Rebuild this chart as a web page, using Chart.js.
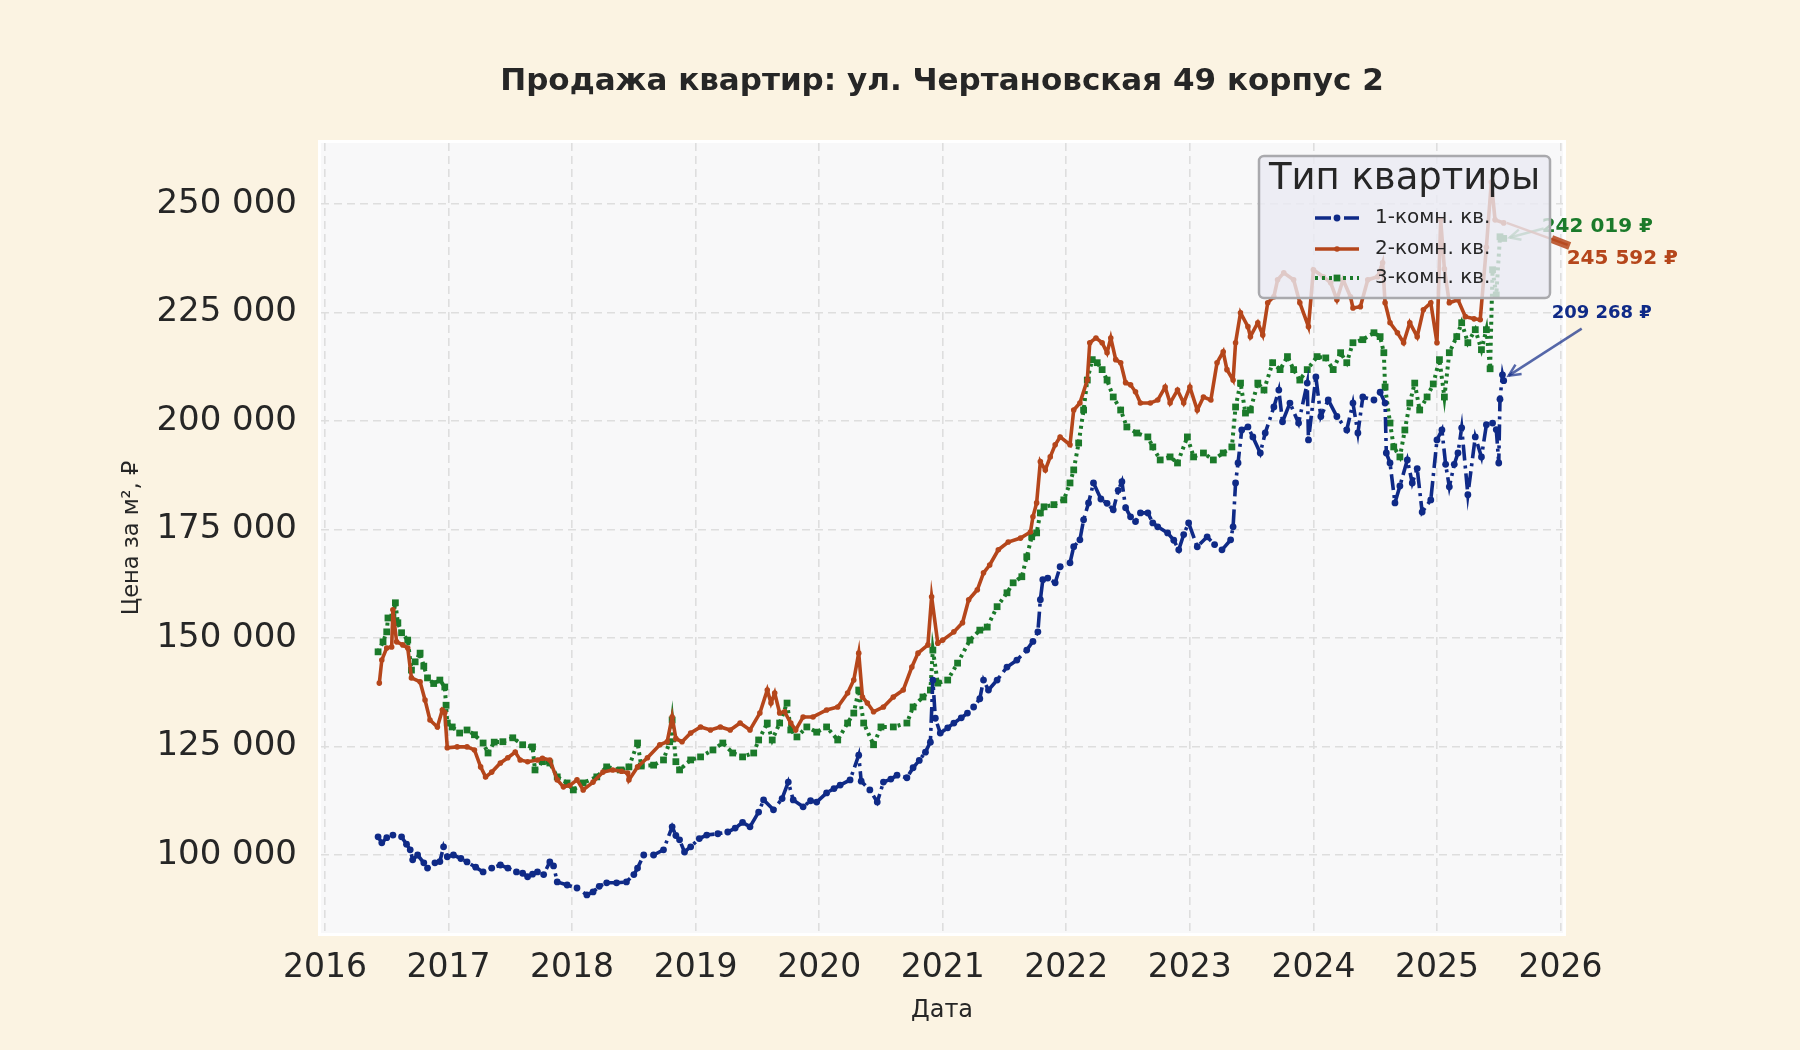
<!DOCTYPE html>
<html>
<head>
<meta charset="utf-8">
<script src="https://cdn.jsdelivr.net/npm/chart.js"></script>
<style>
  html, body { margin: 0; padding: 0; background: #fbf3e2; }
  #wrap { width: 1800px; height: 1050px; position: relative; }
</style>
</head>
<body>
<div id="wrap"><canvas id="chart"></canvas></div>
<script>
// --- data (x = decimal year, y = price per m2, RUB) ---
const oneRoomYears = [
  2016.43, 2016.46, 2016.50, 2016.55, 2016.62, 2016.66, 2016.69, 2016.71, 2016.75, 2016.80,
  2016.83, 2016.89, 2016.93, 2016.96, 2016.99, 2017.04, 2017.10, 2017.15, 2017.22, 2017.28,
  2017.35, 2017.42, 2017.48, 2017.55, 2017.60, 2017.64, 2017.68, 2017.72, 2017.77, 2017.82,
  2017.85, 2017.88, 2017.96, 2018.04, 2018.12, 2018.17, 2018.22, 2018.28, 2018.36, 2018.44,
  2018.50, 2018.53, 2018.58, 2018.66, 2018.74, 2018.81, 2018.84, 2018.87, 2018.91, 2018.96,
  2019.03, 2019.09, 2019.18, 2019.26, 2019.32, 2019.38, 2019.44, 2019.51, 2019.55, 2019.63,
  2019.70, 2019.75, 2019.79, 2019.87, 2019.93, 2019.98, 2020.06, 2020.12, 2020.17, 2020.25,
  2020.32, 2020.34, 2020.41, 2020.47, 2020.52, 2020.58, 2020.63, 2020.71, 2020.76, 2020.81,
  2020.86, 2020.90, 2020.92, 2020.94, 2020.98, 2021.04, 2021.09, 2021.15, 2021.20, 2021.25,
  2021.30, 2021.33, 2021.37, 2021.44, 2021.52, 2021.60, 2021.68, 2021.73, 2021.77, 2021.79,
  2021.81, 2021.85, 2021.91, 2021.95, 2022.03, 2022.06, 2022.11, 2022.14, 2022.18, 2022.22,
  2022.28, 2022.33, 2022.38, 2022.42, 2022.45, 2022.48, 2022.52, 2022.56, 2022.60, 2022.66,
  2022.70, 2022.74, 2022.82, 2022.87, 2022.91, 2022.95, 2022.99, 2023.06, 2023.14, 2023.20,
  2023.26, 2023.33, 2023.35, 2023.37, 2023.39, 2023.42, 2023.47, 2023.51, 2023.57, 2023.61,
  2023.68, 2023.72, 2023.75, 2023.81, 2023.88, 2023.95, 2023.96, 2024.02, 2024.06, 2024.12,
  2024.19, 2024.27, 2024.32, 2024.36, 2024.40, 2024.49, 2024.54, 2024.58, 2024.59, 2024.62,
  2024.66, 2024.70, 2024.76, 2024.80, 2024.84, 2024.88, 2024.95, 2025.00, 2025.04, 2025.07,
  2025.10, 2025.14, 2025.17, 2025.20, 2025.25, 2025.31, 2025.36, 2025.40, 2025.45, 2025.48,
  2025.50, 2025.51, 2025.53, 2025.54
];
const oneRoomPrices = [
  104200, 102800, 104000, 104600, 104200, 102500, 101200, 98900, 100000, 98200,
  97000, 98200, 98500, 101900, 99600, 100000, 99200, 98400, 97200, 96100,
  97000, 97700, 97000, 96100, 95800, 95000, 95600, 96100, 95500, 98400,
  97500, 93800, 93100, 92400, 90800, 91500, 92800, 93600, 93600, 93800,
  95500, 97000, 100000, 100000, 101200, 106500, 104500, 103500, 100700, 101900,
  103800, 104600, 104900, 105300, 106200, 107500, 106500, 109900, 112700, 110400,
  113000, 116800, 112700, 111100, 112500, 112200, 114300, 115300, 116100, 117300,
  123000, 117000, 115000, 112200, 116800, 117500, 118400, 117800, 120100, 121800,
  123700, 126000, 140300, 131500, 128100, 129300, 130400, 131600, 132700, 134100,
  136000, 140300, 138000, 140300, 143300, 144900, 147200, 149200, 151400, 158800,
  163400, 163800, 162700, 166400, 167300, 171000, 172600, 177200, 181100, 185700,
  182000, 181000, 179500, 184000, 186000, 180000, 177900, 176800, 178800, 178800,
  176500, 175600, 174200, 172500, 170300, 173800, 176500, 171000, 173300, 171500,
  170300, 172600, 175600, 185700, 190300, 197900, 198600, 196300, 192600, 197200,
  203200, 207100, 199800, 204100, 199500, 208700, 195600, 210100, 201000, 204800,
  201000, 197900, 204100, 197200, 205500, 204800, 206600, 204100, 192600, 190300,
  181100, 185000, 191000, 185700, 189000, 179000, 181800, 195600, 197900, 190000,
  184800, 190000, 192600, 198400, 183000, 196300, 191700, 199100, 199500, 198000,
  190300, 205000, 210600, 209268
];

const twoRoomYears = [
  2016.44, 2016.46, 2016.50, 2016.54, 2016.55, 2016.58, 2016.63, 2016.67, 2016.70, 2016.77,
  2016.81, 2016.85, 2016.91, 2016.95, 2016.97, 2016.99, 2017.07, 2017.15, 2017.21, 2017.26,
  2017.30, 2017.35, 2017.42, 2017.48, 2017.54, 2017.58, 2017.64, 2017.72, 2017.76, 2017.82,
  2017.88, 2017.93, 2017.98, 2018.04, 2018.09, 2018.17, 2018.25, 2018.33, 2018.40, 2018.45,
  2018.46, 2018.53, 2018.61, 2018.71, 2018.77, 2018.81, 2018.84, 2018.89, 2018.96, 2019.04,
  2019.12, 2019.20, 2019.28, 2019.36, 2019.44, 2019.52, 2019.58, 2019.61, 2019.64, 2019.68,
  2019.72, 2019.77, 2019.81, 2019.87, 2019.95, 2020.06, 2020.15, 2020.23, 2020.28, 2020.32,
  2020.35, 2020.39, 2020.44, 2020.52, 2020.60, 2020.68, 2020.75, 2020.80, 2020.88, 2020.91,
  2020.96, 2021.00, 2021.09, 2021.16, 2021.21, 2021.28, 2021.33, 2021.38, 2021.45, 2021.53,
  2021.63, 2021.71, 2021.73, 2021.76, 2021.79, 2021.83, 2021.87, 2021.91, 2021.95, 2022.03,
  2022.06, 2022.11, 2022.17, 2022.19, 2022.24, 2022.29, 2022.33, 2022.36, 2022.40, 2022.44,
  2022.48, 2022.52, 2022.56, 2022.60, 2022.68, 2022.74, 2022.80, 2022.84, 2022.90, 2022.95,
  2023.00, 2023.06, 2023.11, 2023.17, 2023.22, 2023.27, 2023.30, 2023.35, 2023.37, 2023.41,
  2023.47, 2023.49, 2023.55, 2023.59, 2023.63, 2023.68, 2023.71, 2023.76, 2023.84, 2023.89,
  2023.96, 2024.00, 2024.08, 2024.14, 2024.19, 2024.24, 2024.30, 2024.32, 2024.38, 2024.44,
  2024.52, 2024.56, 2024.58, 2024.62, 2024.68, 2024.73, 2024.78, 2024.84, 2024.89, 2024.95,
  2025.00, 2025.03, 2025.06, 2025.10, 2025.17, 2025.23, 2025.30, 2025.35, 2025.40, 2025.44,
  2025.47, 2025.54
];
const twoRoomPrices = [
  139600, 144900, 147700, 147900, 156500, 149100, 148400, 147700, 140800, 139900,
  135700, 131100, 129500, 133400, 132800, 124700, 124900, 124900, 124200, 120300,
  118000, 119100, 121200, 122400, 123700, 121900, 121500, 121900, 122300, 121900,
  117300, 115700, 116000, 117300, 115000, 116800, 119100, 119600, 119300, 118900,
  117300, 120300, 122400, 125400, 126100, 131800, 126800, 126100, 128100, 129500,
  128800, 129500, 128800, 130400, 128800, 132700, 138000, 135000, 137300, 132700,
  133000, 130400, 128800, 131800, 131800, 133400, 134100, 137300, 140300, 146500,
  136400, 135000, 133000, 134100, 136400, 138000, 143300, 146500, 148400, 159500,
  148800, 149500, 151400, 153500, 158800, 161100, 165000, 166800, 170300, 172100,
  173000, 174400, 177900, 181100, 190600, 188700, 191700, 194500, 196300, 194500,
  202500, 204100, 209400, 218000, 219100, 218000, 215700, 219100, 214100, 213400,
  208800, 208300, 206700, 204100, 204100, 204800, 207800, 204100, 207100, 204100,
  207800, 202500, 205500, 204800, 213400, 215900, 211800, 209400, 218000, 224900,
  221700, 219400, 222600, 219800, 227200, 228600, 232500, 234100, 232500, 227200,
  221700, 234800, 233200, 231800, 227900, 232500, 228600, 226000, 226300, 232500,
  233200, 236400, 227200, 222600, 220300, 218000, 222600, 219400, 225600, 227200,
  218000, 246300, 235000, 227200, 227900, 224000, 223500, 223300, 240000, 255000,
  246300, 245592
];

const threeRoomYears = [
  2016.43, 2016.47, 2016.50, 2016.51, 2016.55, 2016.57, 2016.59, 2016.62, 2016.67, 2016.70,
  2016.73, 2016.77, 2016.80, 2016.83, 2016.88, 2016.93, 2016.97, 2016.98, 2016.99, 2017.03,
  2017.09, 2017.15, 2017.21, 2017.28, 2017.32, 2017.37, 2017.44, 2017.52, 2017.60, 2017.68,
  2017.70, 2017.76, 2017.82, 2017.88, 2017.96, 2018.01, 2018.09, 2018.20, 2018.28, 2018.39,
  2018.46, 2018.53, 2018.56, 2018.66, 2018.74, 2018.79, 2018.81, 2018.84, 2018.87, 2018.96,
  2019.04, 2019.14, 2019.22, 2019.30, 2019.38, 2019.47, 2019.51, 2019.58, 2019.62, 2019.68,
  2019.74, 2019.77, 2019.82, 2019.90, 2019.98, 2020.06, 2020.15, 2020.23, 2020.28, 2020.32,
  2020.36, 2020.44, 2020.50, 2020.60, 2020.71, 2020.76, 2020.84, 2020.90, 2020.92, 2020.96,
  2021.04, 2021.12, 2021.22, 2021.30, 2021.36, 2021.44, 2021.52, 2021.57, 2021.64, 2021.68,
  2021.72, 2021.76, 2021.79, 2021.82, 2021.90, 2021.98, 2022.03, 2022.06, 2022.10, 2022.14,
  2022.17, 2022.21, 2022.25, 2022.29, 2022.33, 2022.38, 2022.44, 2022.49, 2022.57, 2022.66,
  2022.70, 2022.76, 2022.84, 2022.90, 2022.98, 2023.03, 2023.11, 2023.19, 2023.27, 2023.34,
  2023.37, 2023.41, 2023.45, 2023.49, 2023.55, 2023.60, 2023.67, 2023.73, 2023.79, 2023.84,
  2023.89, 2023.95, 2024.03, 2024.10, 2024.16, 2024.22, 2024.27, 2024.32, 2024.40, 2024.49,
  2024.54, 2024.57, 2024.58, 2024.62, 2024.65, 2024.70, 2024.74, 2024.78, 2024.82, 2024.86,
  2024.92, 2024.97, 2025.02, 2025.06, 2025.10, 2025.16, 2025.20, 2025.25, 2025.31, 2025.36,
  2025.40, 2025.43, 2025.45, 2025.48, 2025.51, 2025.54
];
const threeRoomPrices = [
  146800, 149100, 151400, 154600, 154800, 158100, 153500, 151200, 149500, 142600,
  144500, 146500, 143500, 140800, 139500, 140300, 138700, 134500, 130400, 129500,
  128100, 128800, 127700, 125800, 123500, 126000, 126100, 127000, 125400, 124900,
  119600, 121500, 121200, 118000, 116600, 115000, 116600, 118000, 120300, 119600,
  120300, 125800, 120500, 120700, 121900, 126100, 131100, 121500, 119600, 121900,
  122600, 124200, 125800, 123500, 122600, 123500, 126500, 130400, 126500, 130400,
  135000, 128800, 127200, 129500, 128300, 129500, 126500, 130400, 132700, 138000,
  130400, 125400, 129500, 129500, 130400, 134100, 136400, 138000, 147200, 139600,
  140300, 144200, 149500, 151800, 152500, 157200, 160400, 162700, 164100, 168700,
  173300, 174200, 178800, 180200, 180700, 181800, 185700, 188700, 194900, 202500,
  209400, 214100, 213400, 211800, 209400, 205500, 202500, 198600, 197200, 196300,
  194000, 191000, 191700, 190300, 196300, 191700, 192600, 191000, 192600, 194000,
  203200, 208700, 201800, 202500, 208700, 207100, 213400, 211800, 214800, 211800,
  209400, 211800, 214800, 214500, 211800, 215700, 213400, 218000, 218700, 220300,
  219400, 215700, 207800, 199500, 194000, 191700, 197900, 204100, 208700, 202500,
  205500, 208500, 214100, 205500, 215700, 219400, 222600, 218000, 221000, 216400,
  221000, 212000, 234800, 229000, 242400, 242019
];

const seriesNames = ['1-комн. кв.', '2-комн. кв.', '3-комн. кв.'];
const seriesColors = ['#0f2a87', '#b5461b', '#1b7a2a'];
const yTicks = [100000, 125000, 150000, 175000, 200000, 225000, 250000];
const xTicks = [2016, 2017, 2018, 2019, 2020, 2021, 2022, 2023, 2024, 2025, 2026];

const FONT = '"DejaVu Sans", "Noto Sans", sans-serif';
const TEXT = '#262626';

function fmt(v) {
  return String(Math.round(v)).replace(/\B(?=(\d{3})+(?!\d))/g, ' ');
}
function pts(xs, ys) {
  return xs.map((x, i) => ({ x: x, y: ys[i] }));
}

const styles = [
  { dash: [16, 5, 3, 5], width: 3.6, pointStyle: 'circle', r: 3.4 },
  { dash: [], width: 3.6, pointStyle: 'circle', r: 2.8 },
  { dash: [3, 4], width: 4, pointStyle: 'rect', r: 4.8 }
];

// background of figure + plot area
const bgPlugin = {
  id: 'bg',
  beforeDraw(chart) {
    const { ctx, chartArea: a } = chart;
    ctx.save();
    ctx.fillStyle = '#fbf3e2';
    ctx.fillRect(0, 0, chart.width, chart.height);
    ctx.fillStyle = '#ffffff';
    ctx.fillRect(a.left - 3, a.top - 3, a.width + 6, a.height + 6);
    ctx.fillStyle = '#f8f8f9';
    ctx.fillRect(a.left, a.top, a.width, a.height);
    ctx.restore();
  }
};

function arrowHead(ctx, x0, y0, x1, y1, len) {
  const ang = Math.atan2(y1 - y0, x1 - x0);
  ctx.beginPath();
  ctx.moveTo(x1 - len * Math.cos(ang - 0.45), y1 - len * Math.sin(ang - 0.45));
  ctx.lineTo(x1, y1);
  ctx.lineTo(x1 - len * Math.cos(ang + 0.45), y1 - len * Math.sin(ang + 0.45));
  ctx.stroke();
}

// last-value labels with arrows
const lastLabels = {
  id: 'lastLabels',
  afterDatasetsDraw(chart) {
    const { ctx, scales } = chart;
    const last = i => {
      const d = chart.data.datasets[i].data;
      const p = d[d.length - 1];
      return { x: scales.x.getPixelForValue(p.x), y: scales.y.getPixelForValue(p.y), v: p.y };
    };
    ctx.save();
    ctx.textBaseline = 'middle';
    ctx.textAlign = 'left';

    // 3-room
    let p = last(2);
    ctx.strokeStyle = 'rgba(27,122,42,0.7)';
    ctx.lineWidth = 2.5;
    ctx.beginPath(); ctx.moveTo(p.x + 40, p.y - 10); ctx.lineTo(p.x + 6, p.y - 1); ctx.stroke();
    arrowHead(ctx, p.x + 40, p.y - 10, p.x + 6, p.y - 1, 12);
    ctx.fillStyle = seriesColors[2];
    ctx.font = 'bold 20px ' + FONT;
    ctx.fillText(fmt(p.v) + ' ₽', p.x + 38, p.y - 12);

    // 2-room
    p = last(1);
    ctx.strokeStyle = 'rgba(181,70,27,0.85)';
    ctx.lineWidth = 2.5;
    ctx.beginPath(); ctx.moveTo(p.x + 64, p.y + 22); ctx.lineTo(p.x + 3, p.y); ctx.stroke();
    ctx.lineWidth = 8;
    ctx.beginPath(); ctx.moveTo(p.x + 48, p.y + 16); ctx.lineTo(p.x + 66, p.y + 23); ctx.stroke();
    ctx.fillStyle = seriesColors[1];
    ctx.font = 'bold 20px ' + FONT;
    ctx.fillText(fmt(p.v) + ' ₽', p.x + 63, p.y + 36);

    // 1-room
    p = last(0);
    ctx.strokeStyle = 'rgba(15,42,135,0.7)';
    ctx.lineWidth = 2.5;
    ctx.beginPath(); ctx.moveTo(p.x + 78, p.y - 52); ctx.lineTo(p.x + 5, p.y - 5); ctx.stroke();
    arrowHead(ctx, p.x + 78, p.y - 52, p.x + 5, p.y - 5, 13);
    ctx.fillStyle = seriesColors[0];
    ctx.font = 'bold 18px ' + FONT;
    ctx.fillText(fmt(p.v) + ' ₽', p.x + 48, p.y - 67);
    ctx.restore();
  }
};

// title, axis titles and legend
const textPlugin = {
  id: 'texts',
  afterDraw(chart) {
    const { ctx, chartArea: a } = chart;
    const cx = (a.left + a.right) / 2;
    ctx.save();
    ctx.fillStyle = TEXT;
    ctx.textAlign = 'center';
    ctx.textBaseline = 'middle';
    ctx.font = 'bold 31px ' + FONT;
    ctx.fillText('Продажа квартир: ул. Чертановская 49 корпус 2', cx, 82);
    ctx.font = '24px ' + FONT;
    ctx.fillText('Дата', cx, 1011);
    ctx.save();
    ctx.translate(132, (a.top + a.bottom) / 2);
    ctx.rotate(-Math.PI / 2);
    ctx.font = '22.5px ' + FONT;
    ctx.fillText('Цена за м², ₽', 0, 0);
    ctx.restore();

    // legend box
    const bw = 291, bh = 142;
    const bx = a.right - 13 - bw, by = a.top + 13;
    ctx.beginPath();
    ctx.roundRect(bx, by, bw, bh, 5);
    ctx.fillStyle = 'rgba(234,234,242,0.8)';
    ctx.fill();
    ctx.strokeStyle = '#a9a9ad';
    ctx.lineWidth = 2.5;
    ctx.stroke();
    ctx.fillStyle = TEXT;
    ctx.font = '37px ' + FONT;
    ctx.fillText('Тип квартиры', bx + bw / 2, by + 23);
    ctx.textAlign = 'left';
    ctx.font = '20px ' + FONT;
    const rows = [62, 93, 122];
    seriesNames.forEach((name, i) => {
      const y = by + rows[i];
      const s = styles[i];
      ctx.strokeStyle = seriesColors[i];
      ctx.fillStyle = seriesColors[i];
      ctx.lineWidth = s.width;
      ctx.setLineDash(s.dash);
      ctx.beginPath(); ctx.moveTo(bx + 56, y); ctx.lineTo(bx + 100, y); ctx.stroke();
      ctx.setLineDash([]);
      const mx = bx + 78;
      if (s.pointStyle === 'rect') {
        const h = s.r * Math.SQRT1_2;
        ctx.fillRect(mx - h, y - h, 2 * h, 2 * h);
      } else {
        ctx.beginPath(); ctx.arc(mx, y, s.r, 0, Math.PI * 2); ctx.fill();
      }
      ctx.fillStyle = TEXT;
      ctx.fillText(name, bx + 116, y);
    });
    ctx.restore();
  }
};

const seriesYears = [oneRoomYears, twoRoomYears, threeRoomYears];
const seriesPrices = [oneRoomPrices, twoRoomPrices, threeRoomPrices];

const datasets = seriesNames.map((name, i) => ({
  label: name,
  data: pts(seriesYears[i], seriesPrices[i]),
  borderColor: seriesColors[i],
  backgroundColor: seriesColors[i],
  borderWidth: styles[i].width,
  borderDash: styles[i].dash,
  pointStyle: styles[i].pointStyle,
  pointRadius: styles[i].r,
  pointBorderWidth: 0,
  pointBackgroundColor: seriesColors[i],
  tension: 0,
  fill: false
}));

const tickFont = { family: FONT, size: 33 };

new Chart(document.getElementById('chart').getContext('2d'), {
  type: 'line',
  data: { datasets: datasets },
  options: {
    responsive: true,
    maintainAspectRatio: false,
    animation: false,
    layout: { padding: { top: 143, right: 237, bottom: 0, left: 0 } },
    plugins: { legend: { display: false }, tooltip: { enabled: false }, title: { display: false } },
    scales: {
      x: {
        type: 'linear',
        min: 2015.968,
        max: 2026.02,
        afterFit: s => { s.height = 117; },
        afterBuildTicks: s => { s.ticks = xTicks.map(v => ({ value: v })); },
        ticks: { color: TEXT, font: tickFont, padding: 16, maxRotation: 0, autoSkip: false, callback: v => String(v) },
        grid: { color: '#dedede', lineWidth: 1.6, drawTicks: false },
        border: { display: false, dash: [8, 5] }
      },
      y: {
        min: 82040,
        max: 264000,
        afterFit: s => { s.width = 321; },
        afterBuildTicks: s => { s.ticks = yTicks.map(v => ({ value: v })); },
        ticks: { color: TEXT, font: { family: FONT, size: 34 }, padding: 24, callback: v => fmt(v) },
        grid: { color: '#dedede', lineWidth: 1.6, drawTicks: false },
        border: { display: false, dash: [8, 5] }
      }
    }
  },
  plugins: [bgPlugin, lastLabels, textPlugin]
});
</script>
</body>
</html>
